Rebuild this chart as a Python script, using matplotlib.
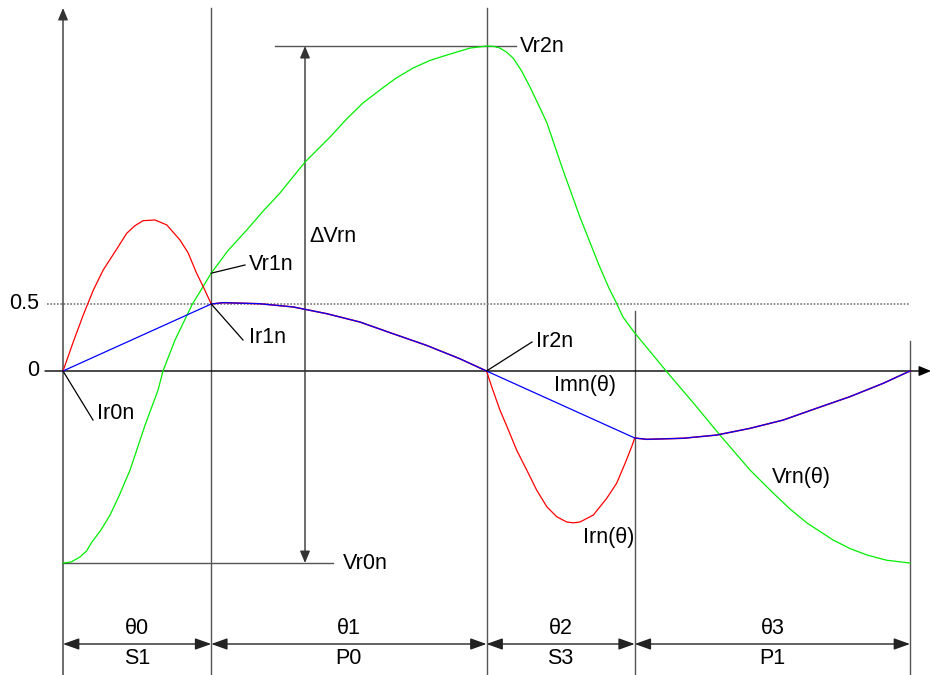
import matplotlib
matplotlib.use("Agg")
import matplotlib.pyplot as plt

plt.rcParams['font.family'] = ['Liberation Sans', 'DejaVu Sans']

# ---------------- data (theta in degrees, normalised values) ----------------
theta_bounds = [0, 63, 180, 243, 360]
seg_top = ["θ0", "θ1", "θ2", "θ3"]
seg_bottom = ["S1", "P0", "S3", "P1"]

Vr0n = -1.433
Vr1n = 0.73
Vr2n = 2.425
level_half = 0.5

vrn_theta = [0, 3.5, 7.2, 10.0, 12.3, 16.0, 20.0, 24.0, 28.5, 34.9, 40.4, 42.5, 47.6, 54.8,
             63, 70.0, 78.1, 85.0, 92.2, 102.9, 113.5, 120.5, 127.5, 134.7, 141.5, 148.8,
             156.0, 163.2, 173.0, 180, 183.0, 185.7, 188.5, 191.3, 194.9, 198.5, 202.0,
             205.7, 212.5, 219.7, 227.7, 232.0, 234.6, 238.0, 243, 256.7, 268.0, 279.2,
             292.0, 301.8, 309.0, 316.2, 327.3, 334.5, 341.7, 350.0, 360]
vrn_val = [-1.433, -1.425, -1.388, -1.343, -1.276, -1.190, -1.075, -0.925, -0.739, -0.403,
           -0.142, 0.0, 0.231, 0.493, 0.73, 0.896, 1.052, 1.192, 1.328, 1.560, 1.746, 1.880,
           2.0, 2.097, 2.185, 2.261, 2.318, 2.358, 2.410, 2.425, 2.423, 2.410, 2.380, 2.336,
           2.240, 2.119, 1.990, 1.851, 1.5, 1.149, 0.795, 0.620, 0.530, 0.403, 0.284, -0.007,
           -0.240, -0.478, -0.739, -0.910, -1.030, -1.134, -1.261, -1.325, -1.373, -1.412,
           -1.433]

irn_s1_theta = [0, 4.4, 8.6, 12.9, 17.1, 22.1, 27.1, 30.6, 34.1, 39.1, 44.1, 49.7, 53.2,
                56.8, 59.6, 63]
irn_s1_val = [0, 0.219, 0.418, 0.604, 0.754, 0.890, 1.028, 1.085, 1.122, 1.127, 1.090,
              0.978, 0.881, 0.729, 0.629, 0.5]

irn_s3_theta = [180, 182.2, 185.7, 189.3, 192.8, 197.1, 201.3, 205.6, 209.8, 214.1, 216.9,
                219.7, 225.4, 231.1, 235.3, 238.9, 241.7, 243]
irn_s3_val = [0, -0.117, -0.291, -0.440, -0.590, -0.739, -0.888, -1.012, -1.087, -1.127,
              -1.133, -1.127, -1.075, -0.950, -0.838, -0.689, -0.565, -0.5]

imn_theta = [0, 63, 68.1, 83.6, 97.8, 112.0, 126.1, 140.3, 154.4, 168.6, 180,
             243, 248.1, 263.6, 277.8, 292.0, 306.1, 320.3, 334.4, 348.6, 360]
imn_val = [0, 0.5, 0.51, 0.502, 0.478, 0.428, 0.366, 0.278, 0.192, 0.092, 0,
           -0.5, -0.51, -0.502, -0.478, -0.428, -0.366, -0.278, -0.192, -0.092, 0]

# ---------------- layout helpers ----------------
W, H = 932, 675
X0, SX = 63, 2.3528
Y0, SY = 371, 134.0


def dx(px):
    return (px - X0) / SX


def dy(py):
    return (Y0 - py) / SY


fig = plt.figure(figsize=(W / 100, H / 100), dpi=100)
ax = fig.add_axes([0, 0, 1, 1])
ax.set_xlim(dx(0), dx(W))
ax.set_ylim(dy(H), dy(0))
ax.axis('off')

FS = 15.5
GRAY = '#555555'

# axes
ax.annotate('', xy=(0, dy(8)), xytext=(0, dy(H)),
            arrowprops=dict(arrowstyle='-|>,head_length=0.6,head_width=0.25', color='#333333',
                            lw=1, shrinkA=0, shrinkB=0, mutation_scale=12))
ax.annotate('', xy=(dx(931), 0), xytext=(dx(45), 0),
            arrowprops=dict(arrowstyle='-|>,head_length=0.6,head_width=0.25', color='black',
                            lw=1, shrinkA=0, shrinkB=0, mutation_scale=12))

# vertical boundary lines
ax.plot([theta_bounds[1]] * 2, [dy(8), dy(H)], color=GRAY, lw=1)
ax.plot([theta_bounds[2]] * 2, [dy(8), dy(H)], color=GRAY, lw=1)
ax.plot([theta_bounds[3]] * 2, [dy(311), dy(H)], color=GRAY, lw=1)
ax.plot([theta_bounds[4]] * 2, [dy(341), dy(H)], color=GRAY, lw=1)

# 0.5 dotted level
ax.plot([dx(47), theta_bounds[4]], [level_half, level_half], color='#777777', lw=1.2,
        linestyle=(0, (1, 1)))
ax.text(dx(39), level_half, '0.5', ha='right', va='center', fontsize=FS)
ax.text(dx(39), 0, '0', ha='right', va='center', fontsize=FS)

# Vr2n / Vr0n reference lines
ax.plot([dx(275), dx(516)], [Vr2n, Vr2n], color=GRAY, lw=1)
ax.text(dx(520), Vr2n, 'Vr2n', ha='left', va='center', fontsize=FS)
ax.plot([0, dx(333)], [Vr0n, Vr0n], color=GRAY, lw=1)
ax.text(dx(343), Vr0n, 'Vr0n', ha='left', va='center', fontsize=FS)

# delta Vrn arrow
ax.annotate('', xy=(dx(305), Vr2n), xytext=(dx(305), Vr0n),
            arrowprops=dict(arrowstyle='<|-|>,head_length=0.6,head_width=0.25', color='#333333',
                            lw=1, shrinkA=0, shrinkB=0, mutation_scale=12))
ax.text(dx(309), dy(237), 'ΔVrn', ha='left', va='center', fontsize=FS)

# curves
ax.plot(vrn_theta, vrn_val, color='#00ee00', lw=0.9, zorder=3)
ax.plot(irn_s1_theta, irn_s1_val, color='#ff0000', lw=0.9, zorder=3)
ax.plot(irn_s3_theta, irn_s3_val, color='#ff0000', lw=0.9, zorder=3)
# Irn coincides with Imn in the P intervals (drawn beneath the blue line)
p0 = [i for i, t in enumerate(imn_theta) if theta_bounds[1] <= t <= theta_bounds[2]]
p1 = [i for i, t in enumerate(imn_theta) if theta_bounds[3] <= t <= theta_bounds[4]]
for idx in (p0, p1):
    ax.plot([imn_theta[i] for i in idx], [imn_val[i] for i in idx], color='#ff0000',
            lw=1.1, zorder=3)
ax.plot(imn_theta, imn_val, color='#0000ff', lw=0.9, zorder=4)

# leader labels
def leader(x0, y0, x1, y1, text, tx, ty):
    ax.plot([x0, x1], [y0, y1], color='black', lw=0.9, zorder=5)
    ax.text(tx, ty, text, ha='left', va='center', fontsize=FS)

leader(0, 0, dx(93), dy(420), 'Ir0n', dx(97), dy(414))
leader(theta_bounds[1], level_half, dx(243), dy(340), 'Ir1n', dx(249), dy(338))
leader(theta_bounds[1], Vr1n, dx(245), dy(265), 'Vr1n', dx(249), dy(265))
leader(theta_bounds[2], 0, dx(532), dy(342), 'Ir2n', dx(536), dy(342))

ax.text(dx(554), dy(386), 'Imn(θ)', ha='left', va='center', fontsize=FS)
ax.text(dx(583), dy(538), 'Irn(θ)', ha='left', va='center', fontsize=FS)
ax.text(dx(772), dy(478), 'Vrn(θ)', ha='left', va='center', fontsize=FS)

# bottom dimension arrows
for i in range(4):
    a, b = theta_bounds[i], theta_bounds[i + 1]
    ax.annotate('', xy=(b, dy(644)), xytext=(a, dy(644)),
                arrowprops=dict(arrowstyle='<|-|>,head_length=0.7,head_width=0.25',
                                color='#222222', lw=1, shrinkA=0, shrinkB=0, mutation_scale=14))
    mid = (a + b) / 2
    ax.text(mid, dy(629), seg_top[i], ha='center', va='center', fontsize=FS)
    ax.text(mid, dy(659), seg_bottom[i], ha='center', va='center', fontsize=FS)

fig.savefig('out.png', dpi=100)
